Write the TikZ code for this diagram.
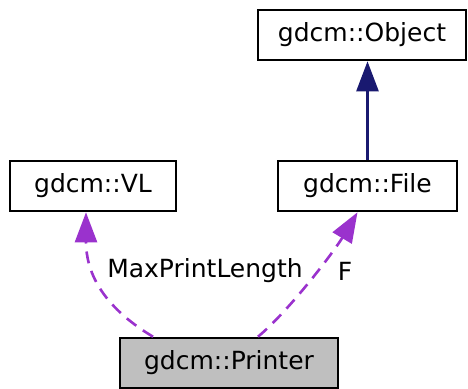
\documentclass[tikz,border=0pt]{standalone}
\usepackage{fontspec}
\setmainfont{DejaVu Sans}
\usetikzlibrary{arrows.meta}

\definecolor{usagecol}{RGB}{154,50,205}
\definecolor{inheritcol}{RGB}{25,25,112}

\tikzset{
    cls/.style={draw, line width=1.3pt, minimum height=25pt, inner sep=0pt, font=\fontsize{12.5}{15}\selectfont},
    lbl/.style={font=\fontsize{12.5}{15}\selectfont},
    usage/.style={draw=usagecol, line width=1.3pt, dash pattern=on 6pt off 4pt,
        -{Triangle[length=15pt, width=11pt, fill=usagecol]}},
    inherit/.style={draw=inheritcol, line width=1.3pt,
        -{Triangle[length=15pt, width=11pt, fill=inheritcol]}}
}

\begin{document}
\begin{tikzpicture}[x=0.5pt, y=-0.5pt]
        \useasboundingbox (0,0) rectangle (468,388);
            \node[cls, minimum width=104pt] (obj) at (362,35) {gdcm::Object};
            \node[cls, minimum width=83pt] (vl) at (93,186) {gdcm::VL};
            \node[cls, minimum width=89.5pt] (file) at (367.5,186) {gdcm::File};
            \node[cls, minimum width=109pt, fill={rgb,255:red,191;green,191;blue,191}] (printer) at (229,363) {gdcm::Printer};

            \draw[inherit] (file.north) -- (file.north |- obj.south);
            \draw[usage] ([xshift=-38pt]printer.north) .. controls (100,305) and (86,270) .. ([xshift=-3.5pt]vl.south);
            \draw[usage] ([xshift=14.5pt]printer.north) .. controls (290,310) and (335,250) .. ([xshift=-5pt]file.south);

            \node[lbl] (maxlen) at (205,271) {MaxPrintLength};
            \node[lbl] (f) at (345,271) {F};
        \end{tikzpicture}
\end{document}
